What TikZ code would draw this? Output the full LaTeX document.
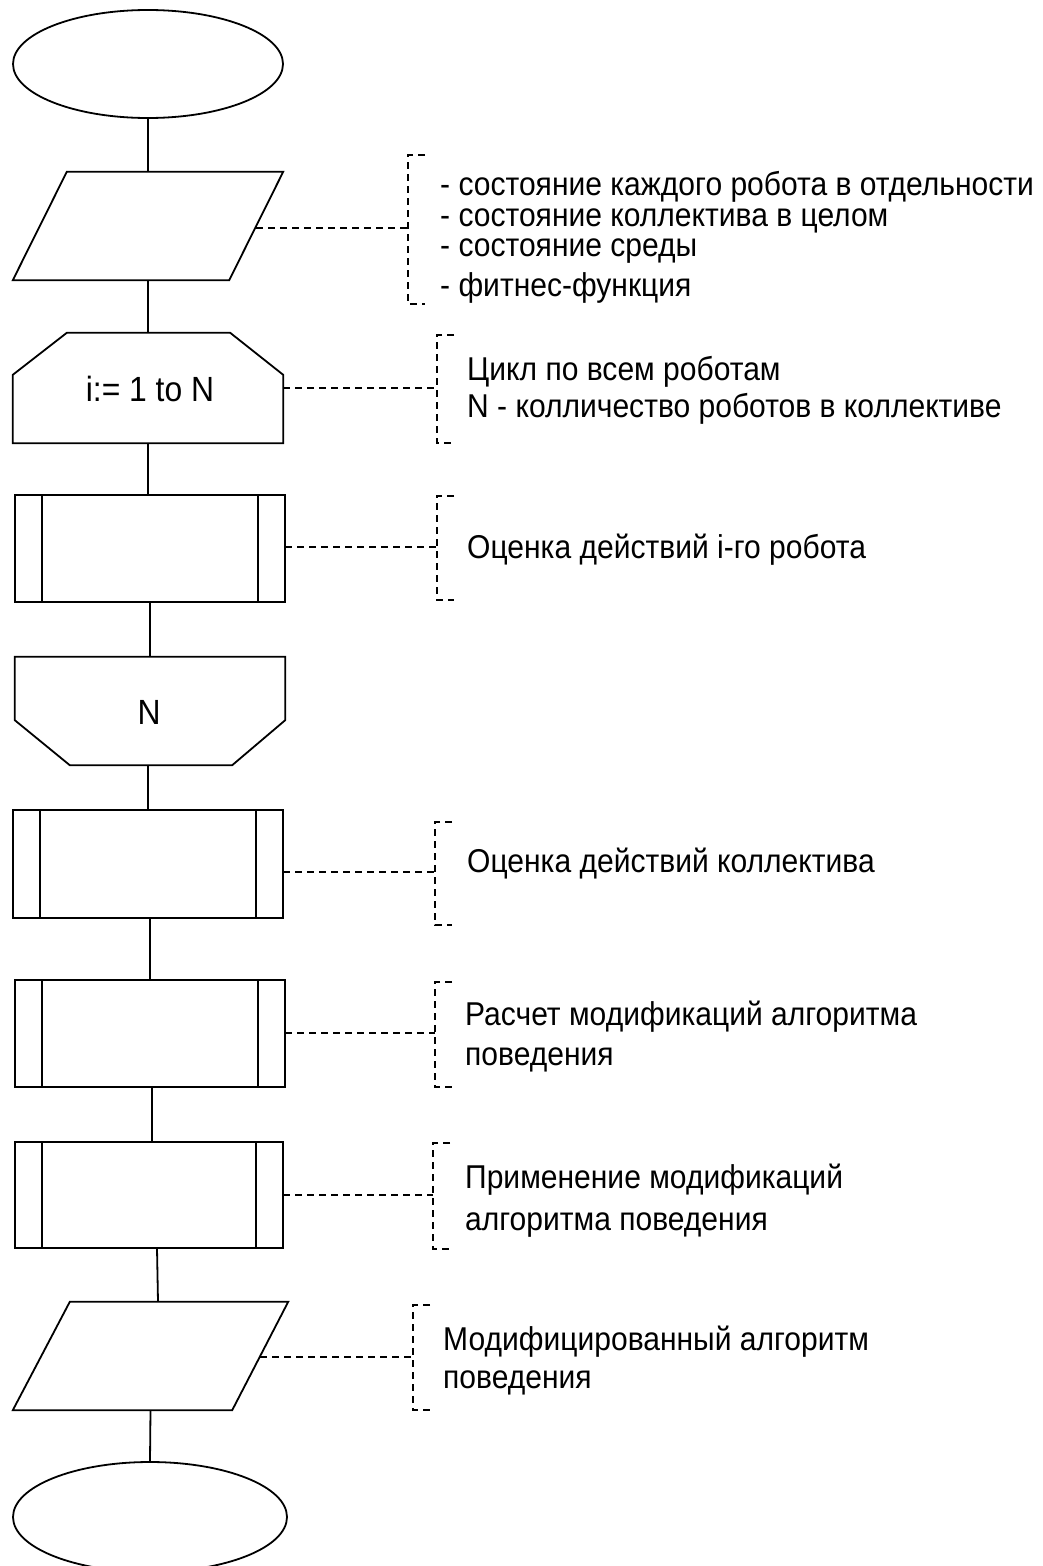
\documentclass[tikz,border=0pt]{standalone}
\usepackage{fontspec}
\setmainfont{Liberation Sans}
\newfontfamily\narrowsans[FakeStretch=0.91]{Liberation Sans}
\usetikzlibrary{shapes.geometric,calc}
\begin{document}
\begin{tikzpicture}[x=1pt,y=-1pt,
  outline/.style={line width=1.8pt,line join=miter},
  frame/.style={inner sep=0pt,minimum width=270pt,minimum height=108pt},
  terminal/.style={draw,ellipse,line width=1.8pt,inner sep=0pt,minimum width=270pt,minimum height=108pt},
  link/.style={line width=1.8pt},
  note/.style={line width=1.6pt,dash pattern=on 7pt off 5pt},
  notetext/.style={anchor=base west,inner sep=0pt,font=\narrowsans\fontsize{33}{38}\selectfont},
  blocktext/.style={anchor=base,inner sep=0pt,font=\narrowsans\fontsize{35}{40}\selectfont}
]
\useasboundingbox[fill=white] (0,0) rectangle (1043,1566);

% ---- blocks ----
\node[terminal] (start) at (148,64) {};

\node[frame] (in1) at (148,226) {};
\draw[outline] ([xshift=54pt]in1.north west) -- (in1.north east)
  -- ([xshift=-54pt]in1.south east) -- (in1.south west) -- cycle;

\node[frame,minimum height=110pt] (loopA) at (148,388) {};
\draw[outline] ([xshift=54pt]loopA.north west) -- ([xshift=-53pt]loopA.north east)
  -- ([yshift=-42pt]loopA.north east) -- (loopA.south east)
  -- (loopA.south west) -- ([yshift=-42pt]loopA.north west) -- cycle;
\node[blocktext] (loopAtxt) at (150,401) {i:= 1 to N};

\node[frame,minimum height=107pt] (p1) at (150,548.5) {};
\node[frame] (loopB) at (150,711) {};
\draw[outline] (loopB.north west) -- (loopB.north east)
  -- ([yshift=45pt]loopB.south east) -- ([xshift=-53pt]loopB.south east)
  -- ([xshift=55pt]loopB.south west) -- ([yshift=45pt]loopB.south west) -- cycle;
\node[blocktext] (loopBtxt) at (149,724) {N};

\node[frame] (p2) at (148,864) {};
\node[frame,minimum height=107pt] (p3) at (150,1033.5) {};
\node[frame,minimum width=268pt,minimum height=106pt] (p4) at (149,1195) {};

% predefined-process boxes with double side bars
\foreach \p in {p1,p2,p3,p4}{
  \draw[outline] (\p.north west) rectangle (\p.south east);
  \draw[outline] ([xshift=27pt]\p.north west) -- ([xshift=27pt]\p.south west);
  \draw[outline] ([xshift=-27pt]\p.north east) -- ([xshift=-27pt]\p.south east);
}

\node[frame,minimum width=275pt] (out) at (150.5,1356) {};
\draw[outline] ([xshift=57pt]out.north west) -- (out.north east)
  -- ([xshift=-56pt]out.south east) -- (out.south west) -- cycle;

\node[terminal,minimum width=274pt,minimum height=110pt] (end) at (150,1517) {};

% ---- flow lines ----
\draw[link] (start.south) -- (in1.north);
\draw[link] (in1.south) -- (loopA.north);
\draw[link] (loopA.south) -- (p1.north -| loopA.south);
\draw[link] (p1.south) -- (loopB.north);
\draw[link] ([xshift=-2pt]loopB.south) -- (p2.north);
\draw[link] ([xshift=2pt]p2.south) -- (p3.north);
\draw[link] ([xshift=2pt]p3.south) -- ([xshift=3pt]p4.north);
\draw[link] ([xshift=8pt]p4.south) -- ([xshift=7.5pt]out.north);
\draw[link] (out.south) -- (end.north);

% ---- comments ----
% inputs
\coordinate (c1) at (408,228);
\draw[note] ([xshift=-27pt,yshift=-2pt]in1.east) -- (c1);
\draw[note] (425,155) -- (408,155) -- (408,304) -- (425,304);
\node[notetext] (t1a) at (440,195) {- состояние каждого робота в отдельности};
\node[notetext] (t1b) at (440,226) {- состояние коллектива в целом};
\node[notetext] (t1c) at (440,256) {- состояние среды};
\node[notetext] (t1d) at (440,296) {- фитнес-функция};

% loop
\coordinate (c2) at (437,388);
\draw[note] (loopA.east) -- (c2);
\draw[note] (454,335) -- (437,335) -- (437,443) -- (454,443);
\node[notetext] (t2a) at (467,380) {Цикл по всем роботам};
\node[notetext] (t2b) at (467,417) {N - колличество роботов в коллективе};

% robot evaluation
\coordinate (c3) at (437,547);
\draw[note] ([yshift=1.5pt]p1.east) -- (c3);
\draw[note] (454,496) -- (437,496) -- (437,600) -- (454,600);
\node[notetext] (t3) at (467,558) {Оценка действий i-го робота};

% collective evaluation
\coordinate (c4) at (435,872);
\draw[note] ([yshift=-8pt]p2.east) -- (c4);
\draw[note] (452,822) -- (435,822) -- (435,925) -- (452,925);
\node[notetext] (t4) at (467,872) {Оценка действий коллектива};

% modification calculation
\coordinate (c5) at (435,1033);
\draw[note] ([yshift=0.5pt]p3.east) -- (c5);
\draw[note] (452,982) -- (435,982) -- (435,1087) -- (452,1087);
\node[notetext] (t5a) at (465,1025) {Расчет модификаций алгоритма};
\node[notetext] (t5b) at (465,1065) {поведения};

% modification application
\coordinate (c6) at (433,1195);
\draw[note] (p4.east) -- (c6);
\draw[note] (450,1143) -- (433,1143) -- (433,1249) -- (450,1249);
\node[notetext] (t6a) at (465,1188) {Применение модификаций};
\node[notetext] (t6b) at (465,1230) {алгоритма поведения};

% output
\coordinate (c7) at (413,1357);
\draw[note] ([xshift=-28pt,yshift=-1pt]out.east) -- (c7);
\draw[note] (430,1305) -- (413,1305) -- (413,1410) -- (430,1410);
\node[notetext] (t7a) at (443,1350) {Модифицированный алгоритм};
\node[notetext] (t7b) at (443,1388) {поведения};
\end{tikzpicture}
\end{document}
